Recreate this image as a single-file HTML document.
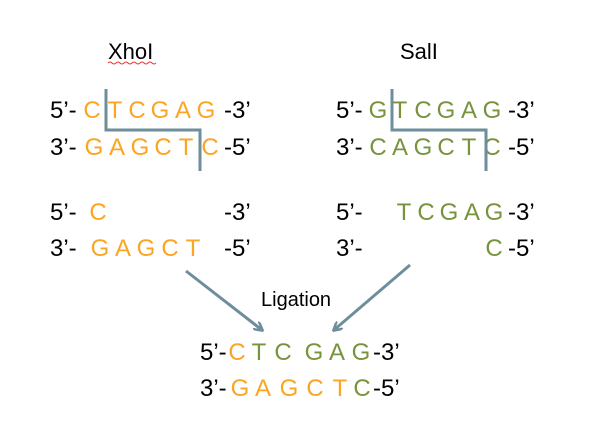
<!DOCTYPE html>
<html><head><meta charset="utf-8"><style>
html,body{margin:0;padding:0;background:#fff;}
svg{display:block;font-family:"Liberation Sans",sans-serif;}
.o{fill:#FBA522;}
.g{fill:#77933C;}
.k{fill:#000;}
</style></head><body>
<svg width="600" height="422" viewBox="0 0 600 422">
<defs><marker id="ah" markerWidth="10" markerHeight="10" refX="8" refY="5" orient="auto" markerUnits="userSpaceOnUse"><path d="M0,0 L9,5 L0,10" fill="none" stroke="#6E8E9B" stroke-width="2.5"/></marker></defs>
<g font-size="22" class="k">
<text x="108" y="59">XhoI</text>
<text x="400" y="59">SalI</text>
</g>
<path d="M108,63 q2,-2 4,0 t4,0 t4,0 t4,0 t4,0 t4,0 t4,0 t4,0 t4,0 t4,0 t4,0 t4,0" fill="none" stroke="#e33" stroke-width="1"/>
<g font-size="24">
<text x="50" y="118" class="k">5’-</text>
<g class="o" text-anchor="middle"><text x="92" y="118">C</text><text x="115" y="118">T</text><text x="137" y="118">C</text><text x="160" y="118">G</text><text x="183" y="118">A</text><text x="206" y="118">G</text></g>
<text x="224" y="118" class="k">-3’</text>
<text x="50" y="155" class="k">3’-</text>
<g class="o" text-anchor="middle"><text x="94" y="155">G</text><text x="117" y="155">A</text><text x="140" y="155">G</text><text x="163" y="155">C</text><text x="186" y="155">T</text></g>
<text x="210" y="155" text-anchor="middle" class="o">C</text>
<text x="224" y="155" class="k">-5’</text>
</g>
<path d="M106,89 V130 H200 V171" fill="none" stroke="#6E8E9B" stroke-width="3"/>
<g font-size="24">
<text x="336" y="118" class="k">5’-</text>
<g class="g" text-anchor="middle"><text x="378" y="118">G</text><text x="400" y="118">T</text><text x="423" y="118">C</text><text x="446" y="118">G</text><text x="469" y="118">A</text><text x="492" y="118">G</text></g>
<text x="508" y="118" class="k">-3’</text>
<text x="336" y="155" class="k">3’-</text>
<g class="g" text-anchor="middle"><text x="378" y="155">C</text><text x="400" y="155">A</text><text x="423" y="155">G</text><text x="446" y="155">C</text><text x="469" y="155">T</text><text x="492" y="155">C</text></g>
<text x="508" y="155" class="k">-5’</text>
</g>
<path d="M392,89 V130 H486 V171" fill="none" stroke="#6E8E9B" stroke-width="3"/>
<g font-size="24">
<text x="50" y="220" class="k">5’-</text>
<text x="98" y="220" text-anchor="middle" class="o">C</text>
<text x="224" y="220" class="k">-3’</text>
<text x="50" y="256" class="k">3’-</text>
<g class="o" text-anchor="middle"><text x="100" y="256">G</text><text x="123" y="256">A</text><text x="146" y="256">G</text><text x="170" y="256">C</text><text x="193" y="256">T</text></g>
<text x="224" y="256" class="k">-5’</text>
</g>
<g font-size="24">
<text x="336" y="220" class="k">5’-</text>
<g class="g" text-anchor="middle"><text x="404" y="220">T</text><text x="426" y="220">C</text><text x="449" y="220">G</text><text x="472" y="220">A</text><text x="494" y="220">G</text></g>
<text x="508" y="220" class="k">-3’</text>
<text x="336" y="256" class="k">3’-</text>
<text x="494" y="256" text-anchor="middle" class="g">C</text>
<text x="508" y="256" class="k">-5’</text>
</g>
<line x1="186" y1="271" x2="262" y2="330" stroke="#6E8E9B" stroke-width="3" marker-end="url(#ah)"/>
<line x1="410" y1="265" x2="334" y2="330" stroke="#6E8E9B" stroke-width="3" marker-end="url(#ah)"/>
<text x="261" y="306" font-size="20" class="k">Ligation</text>
<g font-size="24">
<text x="200" y="360" class="k">5’-</text>
<text x="237" y="360" text-anchor="middle" class="o">C</text>
<g class="g" text-anchor="middle"><text x="259" y="360">T</text><text x="283" y="360">C</text><text x="314" y="360">G</text><text x="337" y="360">A</text><text x="361" y="360">G</text></g>
<text x="373" y="360" class="k">-3’</text>
<text x="200" y="396" class="k">3’-</text>
<g class="o" text-anchor="middle"><text x="240" y="396">G</text><text x="263" y="396">A</text><text x="289" y="396">G</text><text x="315" y="396">C</text><text x="340" y="396">T</text></g>
<text x="362" y="396" text-anchor="middle" class="g">C</text>
<text x="373" y="396" class="k">-5’</text>
</g>
</svg>
</body></html>
